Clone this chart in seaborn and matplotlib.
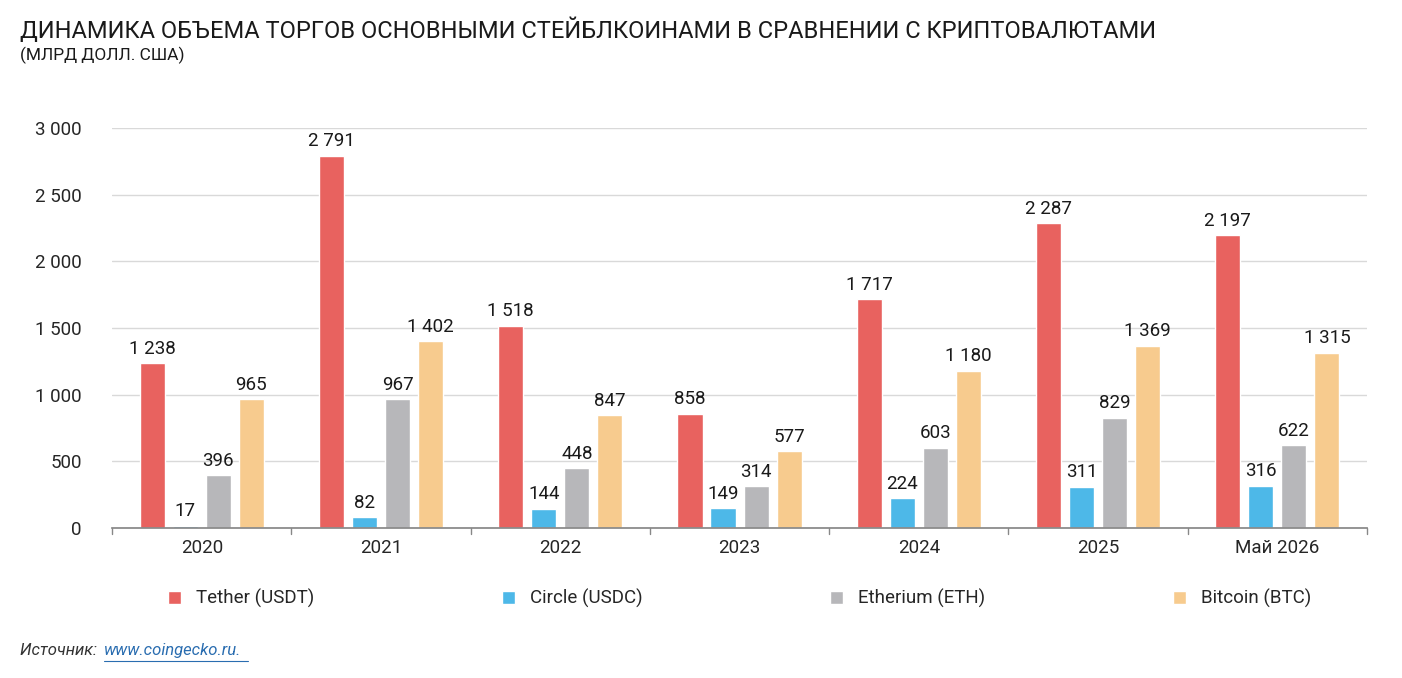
import pandas as pd
import matplotlib.pyplot as plt
import seaborn as sns

sns.set_theme(style="white")
plt.rcParams['font.family'] = ['Roboto', 'DejaVu Sans']

# ── Data ───────────────────────────────────────────────────
years = ["2020", "2021", "2022", "2023", "2024", "2025", "Май 2026"]
coins = ["Tether (USDT)", "Circle (USDC)", "Etherium (ETH)", "Bitcoin (BTC)"]
tether = [1238, 2791, 1518, 858, 1717, 2287, 2197]
circle = [17, 82, 144, 149, 224, 311, 316]
eth = [396, 967, 448, 314, 603, 829, 622]
btc = [965, 1402, 847, 577, 1180, 1369, 1315]
colors = ["#E8625F", "#4DB8E8", "#B7B7BA", "#F7CB8E"]

rows = []
for name, vals in zip(coins, [tether, circle, eth, btc]):
    for y, v in zip(years, vals):
        rows.append({"year": y, "coin": name, "value": v})
df = pd.DataFrame(rows)

def fmt(v):
    return f"{int(v):,}".replace(",", " ")

# ── Plot ───────────────────────────────────────────────────
fig = plt.figure(figsize=(14.02, 6.78), dpi=100)
ax = fig.add_axes([0.08, 0.221, 0.895, 0.59])
sns.barplot(data=df, x="year", y="value", hue="coin", order=years,
            hue_order=coins, palette=colors, width=0.737, gap=0.24,
            saturation=1, ax=ax, legend=True)

for cont in ax.containers:
    ax.bar_label(cont, labels=[fmt(b.get_height()) for b in cont],
                 padding=4, fontsize=13.5, color="#1a1a1a")

ax.set_ylim(0, 3000)
ax.set_xlim(-0.5, len(years) - 0.5)
ax.set_yticks(range(0, 3001, 500))
ax.set_yticklabels([fmt(t) for t in range(0, 3001, 500)], fontsize=13.5)
ax.yaxis.grid(True, color="#D9D9D9", linewidth=1)
ax.set_axisbelow(True)
ax.set_xlabel("")
ax.set_ylabel("")
ax.tick_params(axis="x", labelsize=13.5, length=0, pad=8)
ax.tick_params(axis="y", length=0, pad=22)
for s in ["top", "right", "left"]:
    ax.spines[s].set_visible(False)
ax.spines["bottom"].set_color("#888888")
# category separators under the axis
for i in range(len(years) + 1):
    ax.plot([i - 0.5, i - 0.5], [0, -45], color="#888888", lw=1, clip_on=False)

ax.legend(loc="upper center", bbox_to_anchor=(0.5, -0.11), ncol=4,
          frameon=False, fontsize=13.5, handlelength=0.7, handleheight=0.7,
          columnspacing=10)

fig.text(0.014, 0.955, "ДИНАМИКА ОБЪЕМА ТОРГОВ ОСНОВНЫМИ СТЕЙБЛКОИНАМИ В СРАВНЕНИИ С КРИПТОВАЛЮТАМИ",
         fontsize=17, color="#1a1a1a", va="center")
fig.text(0.014, 0.918, "(МЛРД ДОЛЛ. США)", fontsize=12.5, color="#1a1a1a", va="center")
fig.text(0.014, 0.04, "Источник: ", fontsize=12, style="italic", color="#333333", va="center")
fig.text(0.074, 0.04, "www.coingecko.ru.", fontsize=12, style="italic",
         color="#2A6DB0", va="center").set_url("https://www.coingecko.ru")
fig.lines.append(plt.Line2D([0.074, 0.177], [0.025, 0.025], transform=fig.transFigure,
                            color="#2A6DB0", lw=0.8))

plt.savefig("out.png", dpi=100)
